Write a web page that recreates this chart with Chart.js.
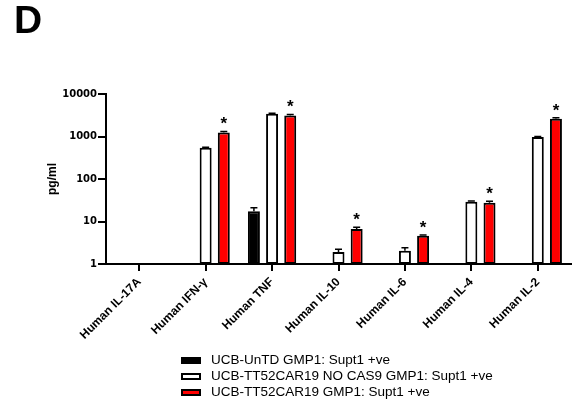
<!DOCTYPE html>
<html>
<head>
<meta charset="utf-8">
<script src="https://cdn.jsdelivr.net/npm/chart.js@4"></script>
<style>
  html, body { margin: 0; padding: 0; background: #fff; }
  #wrap { position: relative; width: 578px; height: 413px; overflow: hidden; }
  #panel { position: absolute; left: 14px; top: -2px; font: bold 39px "Liberation Sans", Arial, sans-serif; color: #000; }
  #legend { position: absolute; left: 181px; top: 352px; font: 13.5px "Liberation Sans", Arial, sans-serif; color: #000; }
  .row { height: 16px; line-height: 16px; display: flex; align-items: center; white-space: nowrap; }
  .box { width: 16px; height: 3px; border: 2px solid #000; margin-right: 10px; }
</style>
</head>
<body>
<div id="wrap">
  <canvas id="c" width="578" height="413"></canvas>
  <div id="panel">D</div>
  <div id="legend"></div>
</div>
<script>
// Cytokine panel
const categories = ['Human IL-17A', 'Human IFN-\u03b3', 'Human TNF', 'Human IL-10', 'Human IL-6', 'Human IL-4', 'Human IL-2'];
const seriesNames = ['UCB-UnTD GMP1: Supt1 +ve', 'UCB-TT52CAR19 NO CAS9 GMP1: Supt1 +ve', 'UCB-TT52CAR19 GMP1: Supt1 +ve'];

// mean concentrations (pg/ml); null = not detected
const untdMean   = [null, null, 17.5, null, null, null, null];
const noCas9Mean = [null, 545, 3450, 1.92, 2.05, 29, 975];
const car19Mean  = [null, 1250, 3100, 6.7, 4.6, 27.5, 2600];

// upper SD
const untdSD   = [null, null, 3.5, null, null, null, null];
const noCas9SD = [null, 15, 60, 0.3, 0.35, 1.5, 25];
const car19SD  = [null, 60, 180, 0.6, 0.2, 2.5, 150];

// significance markers on the CAR19 series
const car19Sig = [false, true, true, true, true, true, true];

const yTicks = [1, 10, 100, 1000, 10000];

const fills = ['#000000', '#ffffff', '#ff0000'];
const means = [untdMean, noCas9Mean, car19Mean];
const sds = [untdSD, noCas9SD, car19SD];
const sigs = [null, null, car19Sig];

// HTML legend
const legendEl = document.getElementById('legend');
seriesNames.forEach((name, i) => {
  const row = document.createElement('div');
  row.className = 'row';
  const box = document.createElement('span');
  box.className = 'box';
  box.style.background = fills[i];
  const txt = document.createElement('span');
  txt.textContent = name;
  row.appendChild(box);
  row.appendChild(txt);
  legendEl.appendChild(row);
});

// error bars (upper SD) and asterisks
const errorBars = {
  id: 'errorBars',
  afterDatasetsDraw(chart) {
    const ctx = chart.ctx;
    const y = chart.scales.y;
    ctx.save();
    chart.data.datasets.forEach((ds, di) => {
      const meta = chart.getDatasetMeta(di);
      meta.data.forEach((bar, i) => {
        const m = ds.data[i];
        if (m == null) return;
        const sd = sds[di][i] || 0;
        const top = y.getPixelForValue(m + sd);
        ctx.strokeStyle = '#000';
        ctx.lineWidth = 1.5;
        ctx.beginPath();
        ctx.moveTo(bar.x, bar.y);
        ctx.lineTo(bar.x, top);
        ctx.moveTo(bar.x - 3.5, top);
        ctx.lineTo(bar.x + 3.5, top);
        ctx.stroke();
        if (sigs[di] && sigs[di][i]) {
          ctx.fillStyle = '#000';
          ctx.font = 'bold 17px "Liberation Sans", Arial, sans-serif';
          ctx.textAlign = 'center';
          ctx.textBaseline = 'middle';
          ctx.fillText('*', bar.x, top - 7);
        }
      });
    });
    ctx.restore();
  }
};

new Chart(document.getElementById('c'), {
  type: 'bar',
  data: {
    labels: categories,
    datasets: seriesNames.map((name, i) => ({
      label: name,
      data: means[i],
      backgroundColor: fills[i],
      borderColor: '#000',
      borderWidth: 2,
      borderSkipped: false,
      barPercentage: 0.66,
      categoryPercentage: 0.82
    }))
  },
  options: {
    responsive: false,
    animation: false,
    layout: { padding: { left: 40, top: 94, right: 7, bottom: 0 } },
    plugins: { legend: { display: false }, tooltip: { enabled: false } },
    scales: {
      x: {
        offset: true,
        afterFit: s => { s.height = 149; },
        grid: { display: true, drawOnChartArea: false, offset: false, drawTicks: true, tickLength: 7, color: '#000', lineWidth: 2 },
        border: { display: true, color: '#000', width: 2 },
        ticks: {
          autoSkip: false, maxRotation: 45, minRotation: 45, padding: 4, color: '#000',
          font: { family: '"Liberation Sans", Arial, sans-serif', weight: 'bold', size: 12 }
        }
      },
      y: {
        type: 'logarithmic',
        min: 1,
        max: 10000,
        afterFit: s => { s.width = 66; },
        afterBuildTicks: s => { s.ticks = yTicks.map(v => ({ value: v })); },
        grid: { display: true, drawOnChartArea: false, drawTicks: true, tickLength: 8, color: '#000', lineWidth: 2 },
        border: { display: true, color: '#000', width: 2 },
        ticks: {
          padding: 1, color: '#000',
          font: { family: '"DejaVu Sans", sans-serif', weight: 'bold', size: 10 },
          callback: v => String(v)
        },
        title: {
          display: true, text: 'pg/ml', color: '#000', padding: { top: 5, bottom: 0 },
          font: { family: '"Liberation Sans", Arial, sans-serif', weight: 'bold', size: 12 }
        }
      }
    }
  },
  plugins: [errorBars]
});
</script>
</body>
</html>
